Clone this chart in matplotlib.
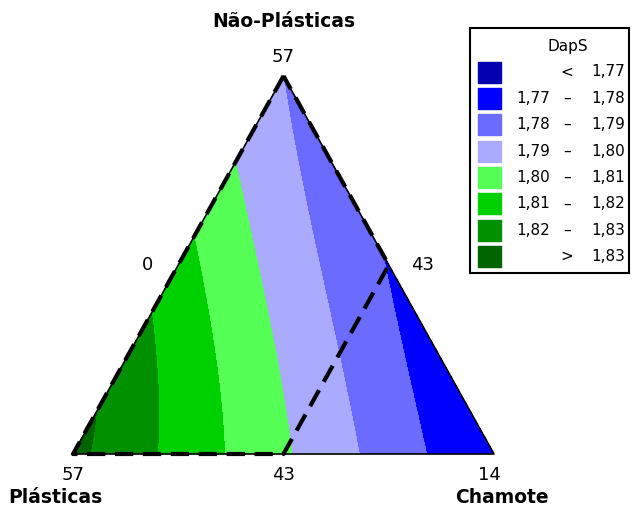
import numpy as np
import matplotlib
matplotlib.use("Agg")
import matplotlib.pyplot as plt
import matplotlib.tri as mtri
from matplotlib.patches import Rectangle

# componentes da mistura (%), limites inferior e superior
componentes = ["Não-Plásticas", "Plásticas", "Chamote"]
limite_inf = [43, 43, 0]
limite_sup = [57, 57, 14]

# coeficientes do modelo de Scheffé em pseudo-componentes (DapS)
b_lin = [1.790, 1.8325, 1.770]    # NP, P, C
b_np_p = 0.0103                   # NP*P
d_np_p = -0.0157                  # NP*P*(NP-P)
b_np_c = -0.0021                  # NP*C
b_np_p_c = -0.012                 # NP*P*C

# regiao experimental (tracejada) em % reais: NP, P, C
regiao = [[57, 43, 0], [43, 57, 0], [43, 50, 7], [50, 43, 7]]

# faixas do grafico de contorno
niveis = [1.70, 1.77, 1.78, 1.79, 1.80, 1.81, 1.82, 1.83, 1.90]
cores = ["#0000b0", "#0000ff", "#6b6bff", "#aaaaff",
         "#55ff55", "#00d000", "#009000", "#006400"]
rotulos = [("", "<", "1,77"), ("1,77", "–", "1,78"), ("1,78", "–", "1,79"),
           ("1,79", "–", "1,80"), ("1,80", "–", "1,81"), ("1,81", "–", "1,82"),
           ("1,82", "–", "1,83"), ("", ">", "1,83")]

amplitude = 100 - sum(limite_inf)


def para_pseudo(real):
    return [(v - l) / amplitude for v, l in zip(real, limite_inf)]


def para_xy(x1, x3):
    # x1 = NP (topo), x3 = Chamote (direita)
    return x3 + x1 / 2.0, x1


# malha triangular em pseudo-componentes
n = 160
pts = []
for i in range(n + 1):
    for j in range(n + 1 - i):
        pts.append((i / n, j / n))
pts = np.array(pts)
x1 = pts[:, 0]
x3 = pts[:, 1]
x2 = 1 - x1 - x3
dap = (b_lin[0] * x1 + b_lin[1] * x2 + b_lin[2] * x3
       + b_np_p * x1 * x2 + d_np_p * x1 * x2 * (x1 - x2)
       + b_np_c * x1 * x3 + b_np_p_c * x1 * x2 * x3)
X, Y = para_xy(x1, x3)
tri = mtri.Triangulation(X, Y)

fig = plt.figure(figsize=(6.32, 5.07), dpi=100)
ax = fig.add_axes([73 / 632, 53 / 507, 421 / 632, 378 / 507])
ax.tricontourf(tri, dap, levels=niveis, colors=cores)
ax.set_xlim(0, 1)
ax.set_ylim(0, 1)
ax.axis("off")

# contorno do triangulo
ax.plot([0, 1, 0.5, 0], [0, 0, 1, 0], color="black", lw=1.2, clip_on=False)

# regiao experimental
rx, ry = [], []
for p in regiao + [regiao[0]]:
    ps = para_pseudo(p)
    a, b = para_xy(ps[0], ps[2])
    rx.append(a)
    ry.append(b)
ax.plot(rx, ry, color="black", lw=3.0, dashes=(4.4, 2.3), clip_on=False,
        dash_capstyle="butt")

# valores dos vertices e dos lados
fs = 13
ax.text(0.5, 1.05, str(limite_sup[0]), ha="center", va="center", fontsize=fs)
ax.text(0.0, -0.056, str(limite_sup[1]), ha="center", va="center", fontsize=fs)
ax.text(0.99, -0.056, str(limite_sup[2]), ha="center", va="center", fontsize=fs)
ax.text(0.178, 0.5, str(limite_inf[2]), ha="center", va="center", fontsize=fs)
ax.text(0.831, 0.5, str(limite_inf[1]), ha="center", va="center", fontsize=fs)
ax.text(0.5, -0.056, str(limite_inf[0]), ha="center", va="center", fontsize=fs)

ax.text(0.5, 1.143, componentes[0], ha="center", va="center",
        fontsize=13.5, fontweight="bold")
ax.text(-0.043, -0.116, componentes[1], ha="center", va="center",
        fontsize=13.5, fontweight="bold")
ax.text(1.019, -0.116, componentes[2], ha="center", va="center",
        fontsize=13.5, fontweight="bold")

# legenda
lg = fig.add_axes([470 / 632, (507 - 273) / 507, 159 / 632, 245 / 507])
lg.set_xlim(0, 159)
lg.set_ylim(245, 0)
lg.set_xticks([])
lg.set_yticks([])
for s in lg.spines.values():
    s.set_linewidth(1.5)
lg.text(98, 18, "DapS", ha="center", va="center", fontsize=11)
for k, (cor, (a, m, b)) in enumerate(zip(cores, rotulos)):
    yc = 44 + 26.36 * k
    lg.add_patch(Rectangle((8, yc - 10.5), 23, 21, color=cor))
    if a:
        lg.text(46, yc, a, ha="left", va="center", fontsize=11)
    lg.text(97, yc, m, ha="center", va="center", fontsize=11)
    lg.text(155, yc, b, ha="right", va="center", fontsize=11)

fig.savefig("out.png", dpi=100)
